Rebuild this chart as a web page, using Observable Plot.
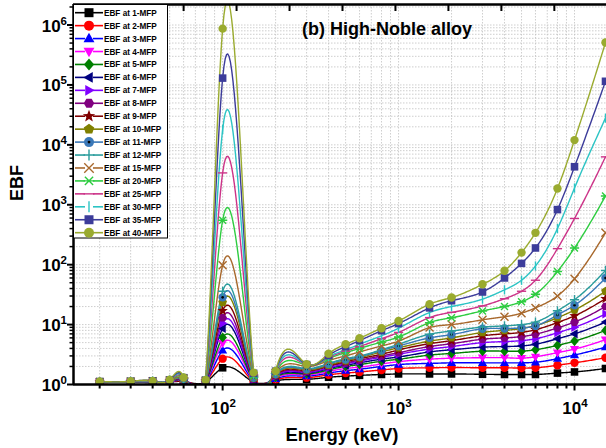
<!DOCTYPE html>
<html>
<head>
<meta charset="utf-8">
<script src="https://cdn.jsdelivr.net/npm/d3@7"></script>
<script src="https://cdn.jsdelivr.net/npm/@observablehq/plot@0.6"></script>
<style>
  html, body { margin: 0; padding: 0; background: #fff; }
  #chart svg { display: block; }
</style>
</head>
<body>
<div id="chart"></div>
<script>
// Photon energies (keV)
const energy = [20, 30, 40, 50, 60, 80, 100, 150, 200, 300, 400, 500, 600, 800, 1000, 1500, 2000, 3000, 4000, 5000, 6000, 8000, 10000, 15000];

// Exposure build-up factors at each penetration depth (mean free paths)
const mfp1  = [1.08, 1.09, 1.08, 1.10, 1.12, 1.10, 1.9, 1.10, 1.15, 1.22, 1.32, 1.38, 1.42, 1.47, 1.50, 1.50, 1.50, 1.48, 1.47, 1.47, 1.47, 1.55, 1.62, 1.85];
const mfp2  = [1.08, 1.09, 1.09, 1.11, 1.14, 1.11, 2.7, 1.12, 1.20, 1.30, 1.45, 1.55, 1.62, 1.75, 1.85, 1.90, 1.92, 1.90, 1.90, 1.88, 1.90, 2.10, 2.30, 2.80];
const mfp3  = [1.08, 1.10, 1.09, 1.12, 1.16, 1.11, 3.7, 1.14, 1.24, 1.38, 1.55, 1.70, 1.80, 2.00, 2.15, 2.25, 2.30, 2.30, 2.30, 2.30, 2.35, 2.70, 3.10, 4.20];
const mfp4  = [1.08, 1.10, 1.10, 1.12, 1.17, 1.12, 4.9, 1.16, 1.28, 1.45, 1.65, 1.85, 1.95, 2.20, 2.40, 2.65, 2.75, 2.80, 2.80, 2.75, 2.90, 3.40, 3.90, 5.60];
const mfp5  = [1.09, 1.10, 1.10, 1.13, 1.18, 1.12, 6.1, 1.18, 1.32, 1.50, 1.75, 2.00, 2.15, 2.45, 2.64, 3.10, 3.30, 3.60, 3.60, 3.60, 3.80, 4.50, 5.30, 8.00];
const mfp6  = [1.09, 1.10, 1.10, 1.13, 1.19, 1.13, 8.6, 1.20, 1.35, 1.55, 1.85, 2.10, 2.30, 2.65, 2.88, 3.50, 3.80, 4.20, 4.30, 4.40, 4.70, 5.80, 7.00, 11.0];
const mfp7  = [1.09, 1.10, 1.11, 1.14, 1.20, 1.13, 10.5, 1.22, 1.38, 1.60, 1.90, 2.20, 2.45, 2.85, 3.20, 3.90, 4.30, 5.00, 5.20, 5.40, 5.80, 7.30, 9.00, 15.0];
const mfp8  = [1.09, 1.10, 1.11, 1.14, 1.21, 1.14, 13, 1.24, 1.41, 1.65, 2.00, 2.30, 2.55, 3.00, 3.40, 4.30, 4.80, 5.70, 6.00, 6.30, 6.90, 8.80, 11.0, 20.0];
const mfp9  = [1.09, 1.11, 1.11, 1.15, 1.22, 1.14, 17, 1.26, 1.44, 1.70, 2.05, 2.40, 2.70, 3.20, 3.77, 4.80, 5.40, 6.50, 7.00, 7.40, 8.20, 10.8, 14.0, 27.0];
const mfp10 = [1.10, 1.11, 1.12, 1.15, 1.23, 1.15, 23.5, 1.28, 1.47, 1.75, 2.10, 2.50, 2.80, 3.50, 4.10, 5.30, 6.00, 7.40, 8.00, 8.60, 9.60, 13.0, 17.5, 36.0];
const mfp11 = [1.10, 1.11, 1.12, 1.16, 1.24, 1.15, 28.5, 1.30, 1.50, 1.80, 2.20, 2.60, 2.90, 3.70, 4.40, 6.00, 6.80, 8.50, 8.60, 8.80, 9.50, 14.5, 21.0, 60.0];
const mfp12 = [1.10, 1.11, 1.12, 1.16, 1.25, 1.16, 36, 1.32, 1.52, 1.85, 2.25, 2.70, 3.00, 3.80, 4.70, 6.90, 7.80, 9.10, 9.50, 10.0, 11.0, 17.0, 26.0, 80.0];
const mfp15 = [1.10, 1.12, 1.13, 1.17, 1.26, 1.16, 98, 1.36, 1.56, 2.00, 2.50, 3.00, 3.50, 4.40, 5.30, 8.90, 10.0, 12.0, 13.5, 15.5, 19.0, 30.0, 58.0, 340];
const mfp20 = [1.11, 1.12, 1.13, 1.18, 1.27, 1.17, 550, 1.40, 1.60, 2.10, 2.70, 3.40, 4.00, 5.10, 6.20, 10.8, 13.0, 16.9, 20.0, 24.0, 32.0, 77.0, 190, 1400];
const mfp25 = [1.11, 1.12, 1.14, 1.18, 1.28, 1.17, 3400, 1.45, 1.64, 2.15, 2.80, 3.60, 4.30, 5.80, 7.40, 13.1, 16.0, 20.5, 27.0, 36.0, 55.0, 185, 590, 6300];
const mfp30 = [1.11, 1.13, 1.14, 1.19, 1.29, 1.18, 18000, 1.50, 1.66, 2.15, 2.90, 3.80, 4.70, 6.50, 8.70, 15.9, 20.0, 26.6, 38.0, 55.0, 95.0, 400, 1900, 28000];
const mfp35 = [1.12, 1.13, 1.15, 1.19, 1.30, 1.18, 130000, 1.54, 1.67, 2.15, 3.05, 4.30, 5.40, 7.90, 10.4, 19.0, 25.0, 35.0, 60.0, 105, 190, 830, 4300, 115000];
const mfp40 = [1.12, 1.13, 1.15, 1.20, 1.31, 1.19, 870000, 1.58, 1.68, 2.18, 3.27, 4.70, 5.90, 8.70, 11.5, 21.9, 28.3, 47.0, 79.0, 159, 340, 1870, 12000, 510000];

const seriesValues = [mfp1, mfp2, mfp3, mfp4, mfp5, mfp6, mfp7, mfp8, mfp9, mfp10, mfp11, mfp12, mfp15, mfp20, mfp25, mfp30, mfp35, mfp40];
const seriesNames = ["EBF at 1-MFP", "EBF at 2-MFP", "EBF at 3-MFP", "EBF at 4-MFP", "EBF at 5-MFP", "EBF at 6-MFP",
  "EBF at 7-MFP", "EBF at 8-MFP", "EBF at 9-MFP", "EBF at 10-MFP", "EBF at 11-MFP", "EBF at 12-MFP",
  "EBF at 15-MFP", "EBF at 20-MFP", "EBF at 25-MFP", "EBF at 30-MFP", "EBF at 35-MFP", "EBF at 40-MFP"];
const seriesColors = ["#000000", "#ff0000", "#0000ff", "#ff00ff", "#008000", "#000080",
  "#8000ff", "#800080", "#800000", "#808000", "#3a78b8", "#2a9c9c",
  "#a8682c", "#2ecc40", "#cc3388", "#2cc4c4", "#3c3c9a", "#9aab2f"];
const seriesMarkers = ["square", "circle", "triUp", "triDown", "diamond", "triLeft",
  "triRight", "hexagon", "star", "pentagon", "dotCircle", "plus",
  "times", "asterisk", "hbar", "vbar", "square", "circle"];

// Axis ticks and labels
const xMajorTicks = [100, 1000, 10000];
const xTickLabels = ["2", "3", "4"];
const yMajorTicks = [1, 10, 100, 1000, 10000, 100000, 1000000];
const yTickLabels = ["0", "1", "2", "3", "4", "5", "6"];
const topTicks = [30, 60, 120, 240, 480, 960, 1920, 3840, 7680];
const xDomain = [14.2, 15200];
const yDomain = [1, 2.2e6];

const plotLeft = 73, plotRight = 606;

const xMinorTicks = [];
for (const d of [10, 100, 1000, 10000]) for (let k = 2; k <= 9; k++) {
  const v = d * k; if (v > xDomain[0] && v < xDomain[1]) xMinorTicks.push(v);
}
const yMinorTicks = [];
for (const d of [1, 10, 100, 1000, 10000, 100000, 1000000]) for (let k = 2; k <= 9; k++) {
  const v = d * k; if (v < yDomain[1]) yMinorTicks.push(v);
}

// Smooth connecting curve: a natural cubic spline whose knot spacing is
// partly stretched towards linear energy (strength set by splineWarp).
const splineWarp = 0.18;
const kx = splineWarp * Math.log(xDomain[1] / xDomain[0]) / (plotRight - plotLeft);
function energySpline(context) {
  let px = [], py = [];
  return {
    areaStart() {}, areaEnd() {},
    lineStart() { px = []; py = []; },
    point(x, y) { px.push(+x); py.push(+y); },
    lineEnd() {
      const n = px.length;
      if (!n) return;
      const u = px.map(x => Math.exp(kx * (x - px[0])));
      const M = new Array(n).fill(0);
      if (n > 2) {
        const a = [], b = [], c = [], d = [];
        for (let i = 1; i < n - 1; i++) {
          const h0 = u[i] - u[i - 1], h1 = u[i + 1] - u[i];
          a.push(h0); b.push(2 * (h0 + h1)); c.push(h1);
          d.push(6 * ((py[i + 1] - py[i]) / h1 - (py[i] - py[i - 1]) / h0));
        }
        const m = a.length;
        for (let i = 1; i < m; i++) {
          const w = a[i] / b[i - 1];
          b[i] -= w * c[i - 1];
          d[i] -= w * d[i - 1];
        }
        const sol = new Array(m);
        sol[m - 1] = d[m - 1] / b[m - 1];
        for (let i = m - 2; i >= 0; i--) sol[i] = (d[i] - c[i] * sol[i + 1]) / b[i];
        for (let i = 0; i < m; i++) M[i + 1] = sol[i];
      }
      context.moveTo(px[0], py[0]);
      for (let i = 0; i < n - 1; i++) {
        const h = u[i + 1] - u[i];
        const steps = 24;
        for (let s = 1; s <= steps; s++) {
          const x = px[i] + (px[i + 1] - px[i]) * s / steps;
          const uu = Math.exp(kx * (x - px[0]));
          const A = (u[i + 1] - uu) / h, B = (uu - u[i]) / h;
          const y = A * py[i] + B * py[i + 1] + ((A * A * A - A) * M[i] + (B * B * B - B) * M[i + 1]) * h * h / 6;
          context.lineTo(x, y);
        }
      }
    }
  };
}

// Marker shapes (drawn to fit a circle of radius r = sqrt(size / pi))
function poly(ctx, pts) { ctx.moveTo(pts[0][0], pts[0][1]); for (const p of pts.slice(1)) ctx.lineTo(p[0], p[1]); ctx.closePath(); }
function ngon(ctx, n, r, rot) {
  const pts = [];
  for (let i = 0; i < n; i++) { const a = rot + i * 2 * Math.PI / n; pts.push([r * Math.cos(a), r * Math.sin(a)]); }
  poly(ctx, pts);
}
const shapes = {
  square:   { draw(ctx, s) { const r = Math.sqrt(s / Math.PI) * 0.9; ctx.rect(-r, -r, 2 * r, 2 * r); } },
  circle:   { draw(ctx, s) { const r = Math.sqrt(s / Math.PI); ctx.moveTo(r, 0); ctx.arc(0, 0, r, 0, 2 * Math.PI); } },
  dotCircle:{ draw(ctx, s) { const r = Math.sqrt(s / Math.PI); ctx.moveTo(r, 0); ctx.arc(0, 0, r, 0, 2 * Math.PI); } },
  triUp:    { draw(ctx, s) { const r = Math.sqrt(s / Math.PI) * 1.15; poly(ctx, [[0, -r], [r * 0.95, r * 0.65], [-r * 0.95, r * 0.65]]); } },
  triDown:  { draw(ctx, s) { const r = Math.sqrt(s / Math.PI) * 1.15; poly(ctx, [[0, r], [r * 0.95, -r * 0.65], [-r * 0.95, -r * 0.65]]); } },
  triLeft:  { draw(ctx, s) { const r = Math.sqrt(s / Math.PI) * 1.15; poly(ctx, [[-r, 0], [r * 0.65, -r * 0.95], [r * 0.65, r * 0.95]]); } },
  triRight: { draw(ctx, s) { const r = Math.sqrt(s / Math.PI) * 1.15; poly(ctx, [[r, 0], [-r * 0.65, -r * 0.95], [-r * 0.65, r * 0.95]]); } },
  diamond:  { draw(ctx, s) { const r = Math.sqrt(s / Math.PI) * 1.2; poly(ctx, [[0, -r], [r * 0.85, 0], [0, r], [-r * 0.85, 0]]); } },
  hexagon:  { draw(ctx, s) { ngon(ctx, 6, Math.sqrt(s / Math.PI) * 1.05, 0); } },
  pentagon: { draw(ctx, s) { ngon(ctx, 5, Math.sqrt(s / Math.PI) * 1.1, -Math.PI / 2); } },
  star:     { draw(ctx, s) {
    const r = Math.sqrt(s / Math.PI) * 1.3, pts = [];
    for (let i = 0; i < 10; i++) { const a = -Math.PI / 2 + i * Math.PI / 5, rr = i % 2 ? r * 0.42 : r; pts.push([rr * Math.cos(a), rr * Math.sin(a)]); }
    poly(ctx, pts);
  } },
  plus:     { draw(ctx, s) { const r = Math.sqrt(s / Math.PI) * 1.1; ctx.moveTo(-r, 0); ctx.lineTo(r, 0); ctx.moveTo(0, -r); ctx.lineTo(0, r); } },
  times:    { draw(ctx, s) { const r = Math.sqrt(s / Math.PI) * 0.95; ctx.moveTo(-r, -r); ctx.lineTo(r, r); ctx.moveTo(-r, r); ctx.lineTo(r, -r); } },
  asterisk: { draw(ctx, s) { const r = Math.sqrt(s / Math.PI) * 1.1, q = r * 0.75; ctx.moveTo(-q, -q); ctx.lineTo(q, q); ctx.moveTo(-q, q); ctx.lineTo(q, -q); ctx.moveTo(-r, 0); ctx.lineTo(r, 0); } },
  hbar:     { draw(ctx, s) { const r = Math.sqrt(s / Math.PI) * 1.1; ctx.moveTo(-r, 0); ctx.lineTo(r, 0); } },
  vbar:     { draw(ctx, s) { const r = Math.sqrt(s / Math.PI) * 1.1; ctx.moveTo(0, -r); ctx.lineTo(0, r); } }
};
const strokedMarkers = new Set(["plus", "times", "asterisk", "hbar", "vbar"]);

const series = seriesValues.map((vals, i) => ({
  name: seriesNames[i],
  color: seriesColors[i],
  marker: seriesMarkers[i],
  rows: energy.map((e, j) => ({ e, v: vals[j] }))
}));

const gridStyle = { stroke: "#c2c2c2", strokeWidth: 0.8, strokeDasharray: "1.5,1.5", strokeOpacity: 1 };
const fontFamily = "'Liberation Sans', Arial, Helvetica, sans-serif";

const marks = [
  Plot.ruleX([...xMinorTicks, ...xMajorTicks], gridStyle),
  Plot.ruleY([...yMinorTicks, ...yMajorTicks.slice(1)], gridStyle)
];
for (const s of series) {
  marks.push(Plot.line(s.rows, { x: "e", y: "v", stroke: s.color, strokeWidth: 1.4, curve: energySpline, clip: true }));
}
for (const s of series) {
  const sym = shapes[s.marker];
  if (strokedMarkers.has(s.marker)) {
    marks.push(Plot.dot(s.rows, { x: "e", y: "v", symbol: sym, r: 4.2, fill: "none", stroke: s.color, strokeWidth: 1.4, clip: true }));
  } else {
    marks.push(Plot.dot(s.rows, { x: "e", y: "v", symbol: sym, r: 4.2, fill: s.color, stroke: "none", clip: true }));
    if (s.marker === "dotCircle") marks.push(Plot.dot(s.rows, { x: "e", y: "v", r: 1.3, fill: "#000", stroke: "none", clip: true }));
  }
}
marks.push(
  Plot.axisX(xMinorTicks, { anchor: "bottom", tickSize: 4.5, strokeWidth: 2, tickFormat: () => "", label: null }),
  Plot.axisX(xMajorTicks, { anchor: "bottom", tickSize: 6.5, strokeWidth: 2, tickFormat: () => "", label: null }),
  Plot.axisX(topTicks, { anchor: "top", tickSize: 6, dy: 6, strokeWidth: 2, tickFormat: () => "", label: null }),
  Plot.axisY(yMinorTicks, { anchor: "left", tickSize: 3.5, strokeWidth: 1.5, tickFormat: () => "", label: null }),
  Plot.axisY(yMajorTicks, { anchor: "left", tickSize: 6, strokeWidth: 2, tickFormat: () => "", label: null }),
  Plot.ruleY([yDomain[1]], { stroke: "#000", strokeWidth: 2.5 }),
  Plot.ruleY([yDomain[0]], { stroke: "#000", strokeWidth: 2.5 }),
  Plot.ruleX([xDomain[0]], { stroke: "#000", strokeWidth: 2.5 })
);

const plot = Plot.plot({
  width: 606,
  height: 448,
  marginLeft: plotLeft,
  marginRight: 606 - plotRight,
  marginTop: 4,
  marginBottom: 64,
  style: { fontFamily, background: "#fff" },
  x: { type: "log", domain: xDomain, label: null },
  y: { type: "log", domain: yDomain, label: null },
  marks
});

const xs = plot.scale("x"), ys = plot.scale("y");
const svg = d3.select(plot);
const bold = (sel, size, anchor = "start") => sel.attr("font-family", fontFamily).attr("font-weight", "bold")
  .attr("font-size", size).attr("fill", "#000").attr("text-anchor", anchor);

// Power-of-ten tick labels with superscript exponents
xMajorTicks.forEach((v, i) => {
  const t = svg.append("text").attr("x", xs.apply(v) + 1).attr("y", 414);
  bold(t, 17, "middle");
  t.append("tspan").text("10");
  t.append("tspan").attr("dy", -7).attr("font-size", 11.5).text(xTickLabels[i]);
});
yMajorTicks.forEach((v, i) => {
  const t = svg.append("text").attr("x", 67).attr("y", ys.apply(v) + 7);
  bold(t, 17, "end");
  t.append("tspan").text("10");
  t.append("tspan").attr("dy", -7).attr("font-size", 11.5).text(yTickLabels[i]);
});

// Axis titles and panel title
bold(svg.append("text").attr("x", 342).attr("y", 441).text("Energy (keV)"), 18.5, "middle");
bold(svg.append("text").attr("transform", "translate(23,183) rotate(-90)").text("EBF"), 18, "middle");
bold(svg.append("text").attr("x", 302).attr("y", 35).text("(b) High-Noble alloy"), 18, "start");

// Legend
const lg = svg.append("g");
lg.append("rect").attr("x", 73.5).attr("y", 4.5).attr("width", 94).attr("height", 233.5)
  .attr("fill", "#fff").attr("stroke", "#000").attr("stroke-width", 1);
series.forEach((s, i) => {
  const cy = 12.7 + i * 12.94;
  lg.append("line").attr("x1", 75).attr("x2", 85).attr("y1", cy).attr("y2", cy).attr("stroke", s.color).attr("stroke-width", 1.6);
  lg.append("line").attr("x1", 93).attr("x2", 103).attr("y1", cy).attr("y2", cy).attr("stroke", s.color).attr("stroke-width", 1.6);
  const path = d3.symbol().type(shapes[s.marker]).size(Math.PI * 25)();
  const m = lg.append("path").attr("d", path).attr("transform", `translate(89,${cy})`);
  if (strokedMarkers.has(s.marker)) m.attr("fill", "none").attr("stroke", s.color).attr("stroke-width", 1.4);
  else m.attr("fill", s.color);
  if (s.marker === "dotCircle") lg.append("circle").attr("cx", 89).attr("cy", cy).attr("r", 1.4).attr("fill", "#000");
  bold(lg.append("text").attr("x", 104).attr("y", cy + 3).text(s.name), 8.2, "start");
});

document.getElementById("chart").appendChild(plot);
</script>
</body>
</html>
